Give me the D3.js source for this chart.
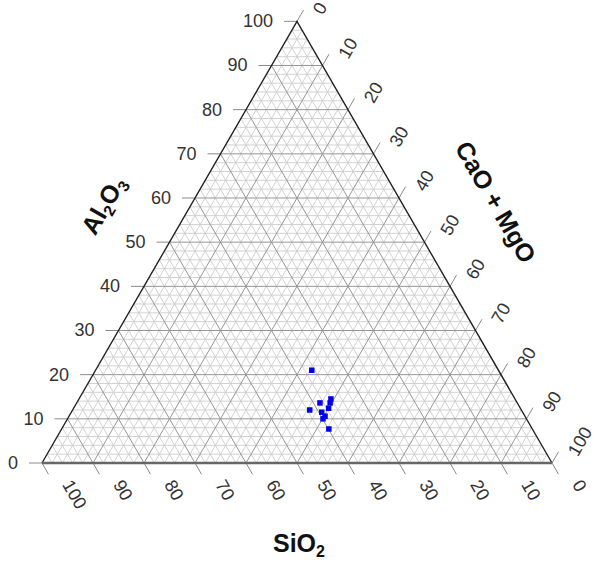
<!DOCTYPE html>
<html>
<head>
<meta charset="utf-8">
<script src="https://cdn.jsdelivr.net/npm/d3@7/dist/d3.min.js"></script>
<style>
  html, body { margin: 0; padding: 0; background: #fff; }
  svg text { font-family: "Liberation Sans", Arial, sans-serif; }
</style>
</head>
<body>
<svg id="chart" width="595" height="562"></svg>
<script>
// Sample compositions (wt %), one entry per sample
const al2o3 = [21.0, 14.5, 13.6, 13.6, 12.0, 12.4, 11.5, 10.6, 10.0, 7.7];
const sio2  = [36.6, 36.1, 36.7, 38.7, 41.5, 37.6, 39.4, 39.2, 39.9, 39.9];
const camgo = [42.4, 49.4, 49.7, 47.7, 46.5, 50.0, 49.1, 50.2, 50.1, 52.4];

// Tick values shown on every axis
const tickValues = [0, 10, 20, 30, 40, 50, 60, 70, 80, 90, 100];
const minorStep = 2;

(function () {
const svg = d3.select("#chart");

// Ternary frame: Al2O3 apex at top, SiO2 bottom-left, CaO+MgO bottom-right
const xLeft = 42, xRight = 552, yBase = 463;
const side = xRight - xLeft;
const yApex = yBase - side * Math.sqrt(3) / 2;

// x from (CaO+MgO + Al2O3/2), y from Al2O3
const xScale = d3.scaleLinear().domain([0, 100]).range([xLeft, xRight]);
const yScale = d3.scaleLinear().domain([0, 100]).range([yBase, yApex]);

function pos(a, s, c) {
  const t = a + s + c;
  const A = a / t * 100, C = c / t * 100;
  return [xScale(C + A / 2), yScale(A)];
}

const gGrid = svg.append("g");
const line = d3.line();

// grid lines every 2 %, heavier every 10 %
const gridVals = d3.range(minorStep, 100, minorStep);
const gridSegs = [];
gridVals.forEach(v => {
  const major = v % 10 === 0;
  gridSegs.push({ major, p: [pos(v, 100 - v, 0), pos(v, 0, 100 - v)] });     // Al2O3 const
  gridSegs.push({ major, p: [pos(100 - v, v, 0), pos(0, v, 100 - v)] });     // SiO2 const
  gridSegs.push({ major, p: [pos(100 - v, 0, v), pos(0, 100 - v, v)] });     // CaO+MgO const
});
gGrid.selectAll("path.minor")
  .data(gridSegs.filter(d => !d.major))
  .join("path")
  .attr("class", "minor")
  .attr("d", d => line(d.p))
  .attr("stroke", "#cdcdcd")
  .attr("stroke-width", 0.9)
  .attr("fill", "none");
gGrid.selectAll("path.major")
  .data(gridSegs.filter(d => d.major))
  .join("path")
  .attr("class", "major")
  .attr("d", d => line(d.p))
  .attr("stroke", "#969696")
  .attr("stroke-width", 1)
  .attr("fill", "none");

// ticks
const tickLen = 13;
const c60 = 0.5, s60 = Math.sqrt(3) / 2;
const gTicks = svg.append("g").attr("stroke", "#8a8a8a").attr("stroke-width", 1);
tickValues.forEach(v => {
  const pl = pos(v, 100 - v, 0);
  gTicks.append("line").attr("x1", pl[0]).attr("y1", pl[1]).attr("x2", pl[0] - tickLen).attr("y2", pl[1]);
  const pb = pos(0, v, 100 - v);
  gTicks.append("line").attr("x1", pb[0]).attr("y1", pb[1]).attr("x2", pb[0] + tickLen * c60).attr("y2", pb[1] + tickLen * s60);
  const pr = pos(100 - v, 0, v);
  gTicks.append("line").attr("x1", pr[0]).attr("y1", pr[1]).attr("x2", pr[0] + tickLen * c60).attr("y2", pr[1] - tickLen * s60);
});

// triangle outline
const pA = pos(100, 0, 0), pS = pos(0, 100, 0), pC = pos(0, 0, 100);
svg.append("path").attr("d", line([pS, pA, pC])).attr("fill", "none").attr("stroke", "#222").attr("stroke-width", 1.4);
svg.append("path").attr("d", line([pS, pC])).attr("fill", "none").attr("stroke", "#666").attr("stroke-width", 2.4);

// tick labels
const gLab = svg.append("g").attr("font-size", 18).attr("fill", "#333");
tickValues.forEach(v => {
  const pl = pos(v, 100 - v, 0);
  gLab.append("text").attr("x", pl[0] - 24).attr("y", pl[1])
    .attr("text-anchor", "end").attr("dominant-baseline", "central").text(v);
  const pb = pos(0, v, 100 - v);
  const bx = pb[0] + 25, by = pb[1] + 18.5;
  gLab.append("text").attr("x", bx).attr("y", by)
    .attr("dominant-baseline", "central")
    .attr("transform", `rotate(60,${bx},${by})`).text(v);
  const pr = pos(100 - v, 0, v);
  const rx = pr[0] + 20.5, ry = pr[1] - 8.5;
  gLab.append("text").attr("x", rx).attr("y", ry)
    .attr("dominant-baseline", "central")
    .attr("transform", `rotate(-60,${rx},${ry})`).text(v);
});

// axis titles
function title(x, y, rot, parts) {
  const t = svg.append("text")
    .attr("x", x).attr("y", y)
    .attr("text-anchor", "middle").attr("dominant-baseline", "central")
    .attr("font-size", 25).attr("font-weight", "bold").attr("fill", "#111")
    .attr("transform", `rotate(${rot},${x},${y})`);
  parts.forEach(p => {
    const ts = t.append("tspan").text(p.t);
    if (p.sub) ts.attr("font-size", 16).attr("baseline-shift", "sub");
  });
}
title(103, 205, -60, [{ t: "Al" }, { t: "2", sub: true }, { t: "O" }, { t: "3", sub: true }]);
title(496, 202, 60, [{ t: "CaO + MgO" }]);
title(299, 543, 0, [{ t: "SiO" }, { t: "2", sub: true }]);

// samples
const pts = al2o3.map((a, i) => pos(a, sio2[i], camgo[i]));
const sz = 5.5;
svg.append("g").selectAll("rect")
  .data(pts)
  .join("rect")
  .attr("x", d => d[0] - sz / 2)
  .attr("y", d => d[1] - sz / 2)
  .attr("width", sz).attr("height", sz)
  .attr("fill", "#0000f0");
})();
</script>
</body>
</html>
